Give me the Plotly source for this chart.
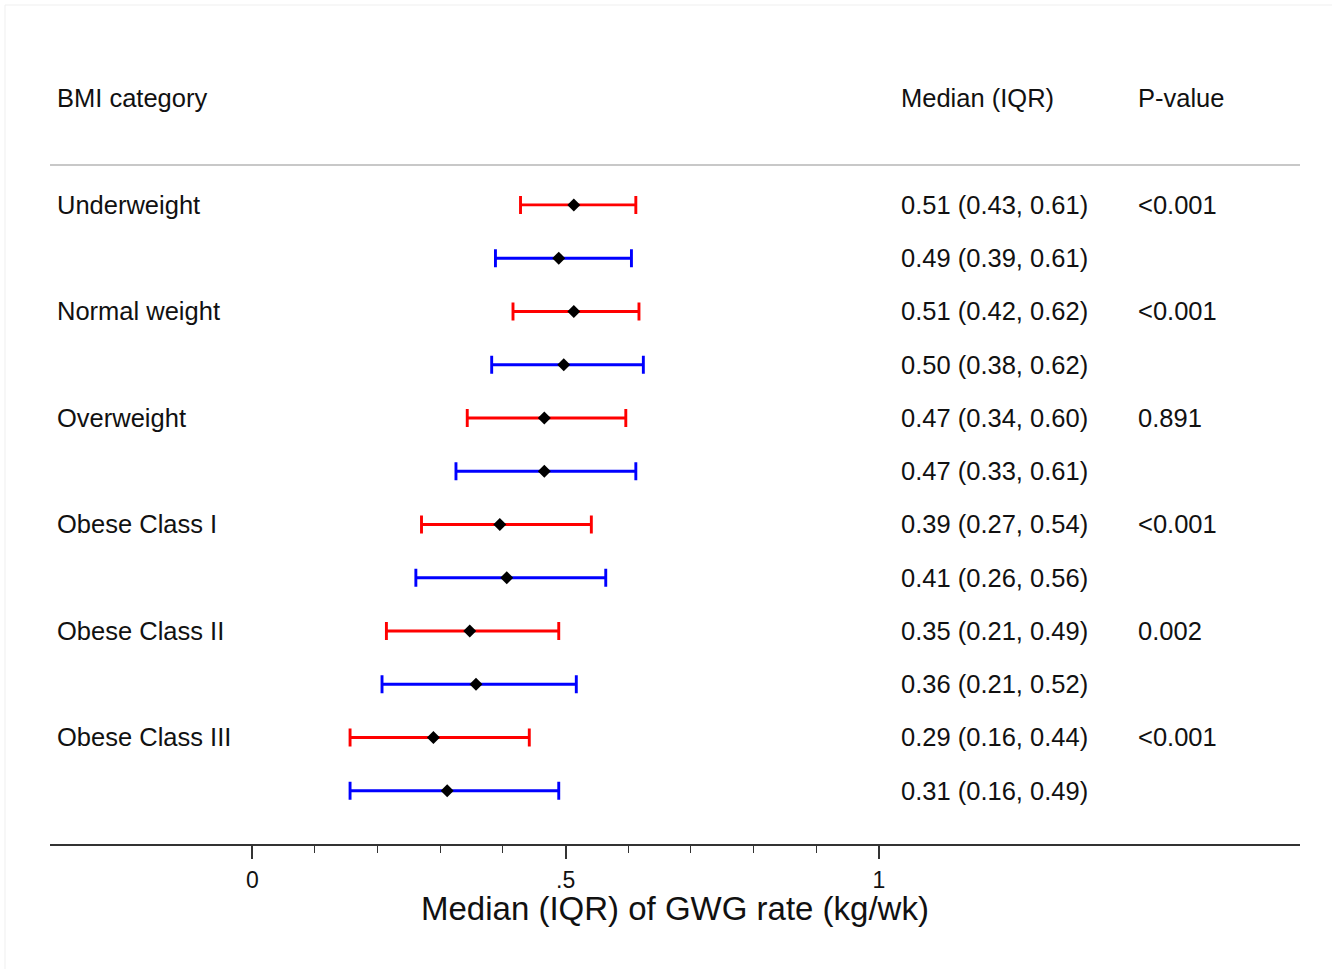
import plotly.graph_objects as go

# ---------------- data ----------------
categories = ["Underweight", "Normal weight", "Overweight",
              "Obese Class I", "Obese Class II", "Obese Class III"]
p_values = ["<0.001", "<0.001", "0.891", "<0.001", "0.002", "<0.001"]

red_median = [0.513, 0.513, 0.466, 0.395, 0.347, 0.289]
red_q1 = [0.428, 0.416, 0.343, 0.270, 0.214, 0.156]
red_q3 = [0.612, 0.617, 0.596, 0.541, 0.489, 0.442]
red_labels = ["0.51 (0.43, 0.61)", "0.51 (0.42, 0.62)", "0.47 (0.34, 0.60)",
              "0.39 (0.27, 0.54)", "0.35 (0.21, 0.49)", "0.29 (0.16, 0.44)"]

blue_median = [0.489, 0.497, 0.466, 0.406, 0.357, 0.311]
blue_q1 = [0.388, 0.382, 0.325, 0.261, 0.207, 0.156]
blue_q3 = [0.605, 0.624, 0.612, 0.564, 0.517, 0.489]
blue_labels = ["0.49 (0.39, 0.61)", "0.50 (0.38, 0.62)", "0.47 (0.33, 0.61)",
               "0.41 (0.26, 0.56)", "0.36 (0.21, 0.52)", "0.31 (0.16, 0.49)"]

tick_values = [0, 0.5, 1]
tick_labels = ["0", ".5", "1"]
minor_tick_values = [0.1, 0.2, 0.3, 0.4, 0.6, 0.7, 0.8, 0.9]

header_category = "BMI category"
header_median = "Median (IQR)"
header_p = "P-value"
x_title = "Median (IQR) of GWG rate (kg/wk)"

# ---------------- layout helpers ----------------
FONT = "Liberation Sans, Arial, sans-serif"
red_rows = [2 * i for i in range(len(categories))]
blue_rows = [2 * i + 1 for i in range(len(categories))]

X_LABEL = 0.0042
X_MED = 0.6788
X_P = 0.8688

fig = go.Figure()


def add_series(med, q1, q3, rows, color):
    fig.add_trace(go.Scatter(
        x=med, y=rows, mode="markers",
        marker=dict(symbol="diamond", size=10, color="black"),
        error_x=dict(type="data", symmetric=False,
                     array=[b - m for m, b in zip(med, q3)],
                     arrayminus=[m - a for m, a in zip(med, q1)],
                     color=color, thickness=2.9, width=9),
        showlegend=False, hoverinfo="skip", cliponaxis=False,
    ))


add_series(red_median, red_q1, red_q3, red_rows, "#ff0000")
add_series(blue_median, blue_q1, blue_q3, blue_rows, "#0000ff")

annotations = []


def txt(x, y, s, yref="y", size=25.5, xanchor="left"):
    annotations.append(dict(x=x, y=y, xref="paper", yref=yref, text=s,
                            showarrow=False, xanchor=xanchor, yanchor="middle",
                            font=dict(family=FONT, size=size, color="#111111")))


# headers
txt(X_LABEL, -2, header_category)
txt(X_MED, -2, header_median)
txt(X_P, -2, header_p)

for i, cat in enumerate(categories):
    txt(X_LABEL, red_rows[i], cat)
    txt(X_MED, red_rows[i], red_labels[i])
    txt(X_MED, blue_rows[i], blue_labels[i])
    txt(X_P, red_rows[i], p_values[i])

# axis title
txt(0.5, -0.0769, x_title, yref="paper", size=33, xanchor="center")

shapes = [
    # separator under header
    dict(type="line", xref="paper", yref="y", x0=0, x1=1, y0=-0.75, y1=-0.75,
         line=dict(color="#c8c8c8", width=2)),
    # faint frame (top & left)
    dict(type="line", xref="paper", yref="paper", x0=-0.036, x1=1.03, y0=1, y1=1,
         line=dict(color="#efefef", width=1)),
    dict(type="line", xref="paper", yref="paper", x0=-0.036, x1=-0.036, y0=1, y1=-0.2,
         line=dict(color="#efefef", width=1)),
]

fig.update_layout(
    width=1332, height=969,
    margin=dict(l=50, r=32, t=5, b=125),
    paper_bgcolor="white", plot_bgcolor="white",
    annotations=annotations, shapes=shapes,
    font=dict(family=FONT, color="#111111"),
    xaxis=dict(
        range=[-0.3228, 1.6718], showgrid=False, zeroline=False,
        showline=True, linecolor="#333333", linewidth=2,
        tickmode="array", tickvals=tick_values, ticktext=tick_labels,
        ticks="outside", ticklen=13, tickwidth=1.6, tickcolor="#333333",
        tickfont=dict(family=FONT, size=23, color="#111111"),
        ticklabelstandoff=1,
        minor=dict(tickmode="array", tickvals=minor_tick_values,
                   ticks="outside", ticklen=7, tickwidth=1.4, tickcolor="#333333"),
        fixedrange=True,
    ),
    yaxis=dict(range=[12, -3.754], visible=False, showgrid=False,
               zeroline=False, fixedrange=True),
)

fig.write_html("out.html",
               config={"displayModeBar": False},
               post_script="document.body.style.margin='0';document.body.style.overflow='hidden';")
